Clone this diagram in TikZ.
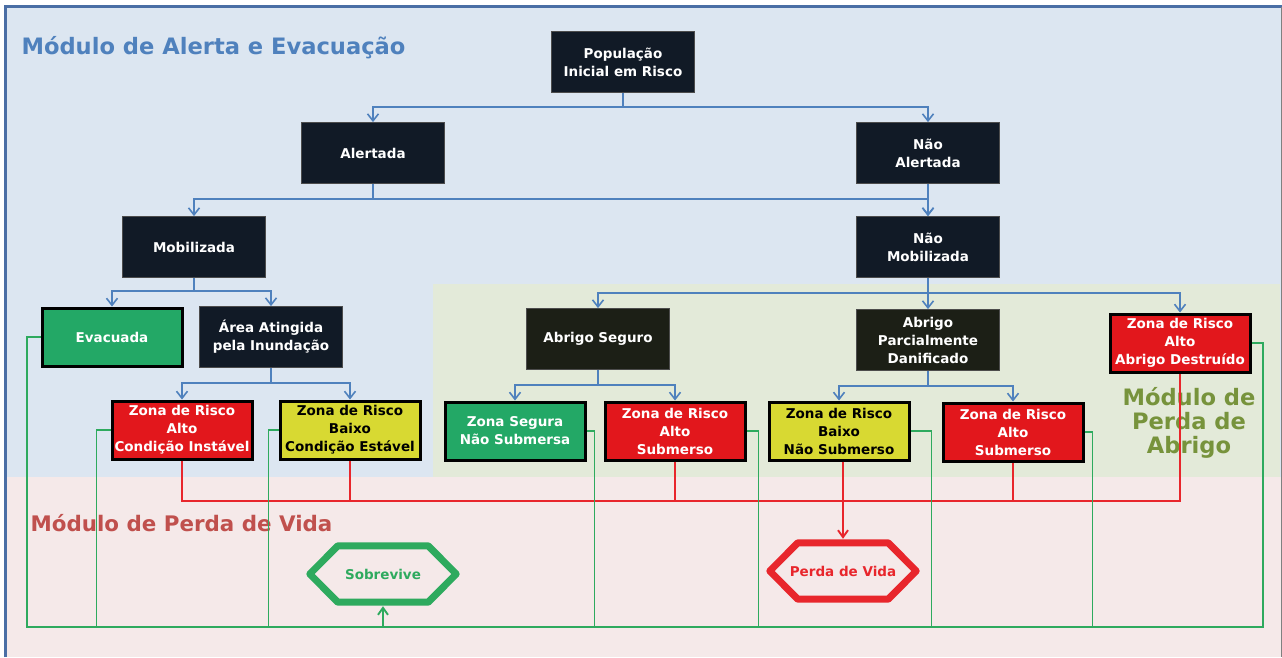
\documentclass[tikz,border=0pt]{standalone}
\usepackage{fontspec}
\setmainfont{DejaVu Sans}
\usepackage{xcolor}
\usepackage{tikz}
\usetikzlibrary{arrows.meta, positioning, calc}

\definecolor{fundoazul}{RGB}{220,230,241}
\definecolor{fundoverde}{RGB}{227,234,217}
\definecolor{fundorosa}{RGB}{245,233,233}
\definecolor{bordaazul}{RGB}{74,110,165}
\definecolor{azulescuro}{RGB}{17,26,38}
\definecolor{pretoabrigo}{RGB}{28,31,22}
\definecolor{verdecaixa}{RGB}{35,168,102}
\definecolor{vermelhocaixa}{RGB}{226,23,28}
\definecolor{amarelocaixa}{RGB}{216,217,50}
\definecolor{azulfluxo}{RGB}{79,129,189}
\definecolor{vermelholinha}{RGB}{232,38,44}
\definecolor{verdelinha}{RGB}{46,170,94}
\definecolor{titazul}{RGB}{79,129,189}
\definecolor{titvermelho}{RGB}{192,80,77}
\definecolor{titverde}{RGB}{119,147,60}

\tikzset{
    caixa/.style={rectangle, align=center, inner sep=2pt,
        font=\bfseries\fontsize{13.5}{18}\selectfont},
    caixaescura/.style={caixa, fill=azulescuro, draw=gray!60!black, line width=0.8pt,
        text=white, minimum width=143, minimum height=61},
    caixaabrigo/.style={caixaescura, fill=pretoabrigo},
    caixacor/.style={caixa, draw=black, line width=3pt, minimum width=140, minimum height=58},
    caixaverde/.style={caixacor, fill=verdecaixa, text=white},
    caixavermelha/.style={caixacor, fill=vermelhocaixa, text=white},
    caixaamarela/.style={caixacor, fill=amarelocaixa, text=black},
    fluxo/.style={azulfluxo, line width=1.8pt, -{Straight Barb[length=7pt, width=11pt, line width=1.6pt]}},
    linhaperda/.style={vermelholinha, line width=1.9pt},
    linhasobre/.style={verdelinha, line width=1.9pt},
    desfecho/.style={rectangle, minimum width=90, minimum height=56, inner sep=0pt,
        font=\bfseries\fontsize{13.5}{16}\selectfont},
    contorno/.style={line width=7pt, line join=round},
    titulo/.style={font=\bfseries\fontsize{22.6}{24}\selectfont}
}

\begin{document}
\begin{tikzpicture}[x=1pt, y=-1pt]
    \useasboundingbox (0,0) rectangle (1282,657);
    % fundos dos modulos
    \fill[fundoazul] (5,7) rectangle (1282,477);
    \fill[fundoverde] (433,284) rectangle (1280,477);
    \fill[fundorosa] (5,477) rectangle (1282,657);
    \draw[bordaazul, line width=3pt] (5,657) -- (5,6.5) -- (1282,6.5);
    \draw[gray, line width=1pt] (1281.5,7) -- (1281.5,657);
    % titulos
    \node[titulo, titazul, anchor=west] (talerta) at (18,48) {Módulo de Alerta e Evacuação};
    \node[titulo, titvermelho, anchor=west, font=\bfseries\fontsize{21.4}{24}\selectfont] (tvida) at (27,523) {Módulo de Perda de Vida};
    \node[titulo, titverde, align=center] (tabrigo) at (1189,423) {Módulo de\\Perda de\\Abrigo};
    % arvore de alerta
    \node[caixaescura] (pop) at (623,62) {População\\Inicial em Risco};
    \node[caixaescura] (alert) at (373,153) {Alertada};
    \node[caixaescura] (naoalert) at (928,153) {Não\\Alertada};
    \node[caixaescura] (mob) at (194,247) {Mobilizada};
    \node[caixaescura] (naomob) at (928,247) {Não\\Mobilizada};
    \node[caixaverde] (evac) at (112,337) {Evacuada};
    \node[caixaescura] (area) at (271,337) {Área Atingida\\pela Inundação};
    \node[caixavermelha] (zrci) at (182,430) {Zona de Risco\\Alto\\Condição Instável};
    \node[caixaamarela] (zrce) at (350,430) {Zona de Risco\\Baixo\\Condição Estável};
    % abrigos
    \node[caixaabrigo] (abseg) at (598,339) {Abrigo Seguro};
    \node[caixaabrigo] (abpar) at (928,340) {Abrigo\\Parcialmente\\Danificado};
    \node[caixavermelha] (zrdes) at (1180,343) {Zona de Risco\\Alto\\Abrigo Destruído};
    \node[caixaverde] (zss) at (515,431) {Zona Segura\\Não Submersa};
    \node[caixavermelha] (zras1) at (675,431) {Zona de Risco\\Alto\\Submerso};
    \node[caixaamarela] (zrbn) at (839,431) {Zona de Risco\\Baixo\\Não Submerso};
    \node[caixavermelha] (zras2) at (1013,432) {Zona de Risco\\Alto\\Submerso};
    % desfechos (hexagonos)
    \node[desfecho, text=verdelinha] (sobre) at (383,574) {\makebox[90pt][c]{Sobrevive}};
    \node[desfecho, text=vermelholinha] (perda) at (843,571) {\makebox[90pt][c]{Perda de Vida}};
    \draw[contorno, verdelinha] (sobre.north west) -- (sobre.north east) -- ($(sobre.east)+(28,0)$)
        -- (sobre.south east) -- (sobre.south west) -- ($(sobre.west)+(-28,0)$) -- cycle;
    \draw[contorno, vermelholinha] (perda.north west) -- (perda.north east) -- ($(perda.east)+(28,0)$)
        -- (perda.south east) -- (perda.south west) -- ($(perda.west)+(-28,0)$) -- cycle;
    % fluxos azuis
    \draw[fluxo] (pop.south) -- ++(0,14) -| (alert.north);
    \draw[fluxo] (pop.south) -- ++(0,14) -| (naoalert.north);
    \draw[fluxo] (alert.south) -- ++(0,15) -| (mob.north);
    \draw[fluxo] (alert.south) -- ++(0,15) -| (naomob.north);
    \draw[fluxo] (naoalert) -- (naomob);
    \draw[fluxo] (mob.south) -- ++(0,13) -| (evac.north);
    \draw[fluxo] (mob.south) -- ++(0,13) -| (area.north);
    \draw[fluxo] (area.south) -- ++(0,15) -| (zrci.north);
    \draw[fluxo] (area.south) -- ++(0,15) -| (zrce.north);
    \draw[fluxo] (naomob.south) -- ++(0,15) -| (abseg.north);
    \draw[fluxo] (naomob.south) -- ++(0,15) -| (abpar.north);
    \draw[fluxo] (naomob.south) -- ++(0,15) -| (zrdes.north);
    \draw[fluxo] (abseg.south) -- ++(0,15) -| (zss.north);
    \draw[fluxo] (abseg.south) -- ++(0,15) -| (zras1.north);
    \draw[fluxo] (abpar.south) -- ++(0,15) -| (zrbn.north);
    \draw[fluxo] (abpar.south) -- ++(0,15) -| (zras2.north);
    % linhas para perda de vida
    \coordinate (barraperda) at (0,501);
    \draw[linhaperda] (zrci.south) -- (zrci.south |- barraperda) -| (zrdes.south);
    \draw[linhaperda] (zrce.south) -- (zrce.south |- barraperda);
    \draw[linhaperda] (zras1.south) -- (zras1.south |- barraperda);
    \draw[linhaperda] (zras2.south) -- (zras2.south |- barraperda);
    \draw[linhaperda, -{Straight Barb[length=7pt, width=10pt]}] (perda.north |- zrbn.south) -- ($(perda.north)+(0,-4)$);
    % linhas para sobrevive
    \coordinate (barraesq) at (27,627);
    \coordinate (barradir) at (1263,627);
    \draw[linhasobre] (evac.west) -| (barraesq) -- (barradir) |- (zrdes.east);
    \draw[linhasobre] (zrci.west) -- ++(-14,0) |- (barraesq);
    \draw[linhasobre] (zrce.west) -- ++(-10,0) |- (barraesq);
    \draw[linhasobre] (zss.east) -- ++(8,0) |- (barradir);
    \draw[linhasobre] (zras1.east) -- ++(12,0) |- (barradir);
    \draw[linhasobre] (zrbn.east) -- ++(21,0) |- (barradir);
    \draw[linhasobre] (zras2.east) -- ++(8,0) |- (barradir);
    \draw[linhasobre, -{Straight Barb[length=7pt, width=10pt]}] (sobre.south |- barraesq) -- ($(sobre.south)+(0,4)$);
\end{tikzpicture}
\end{document}
